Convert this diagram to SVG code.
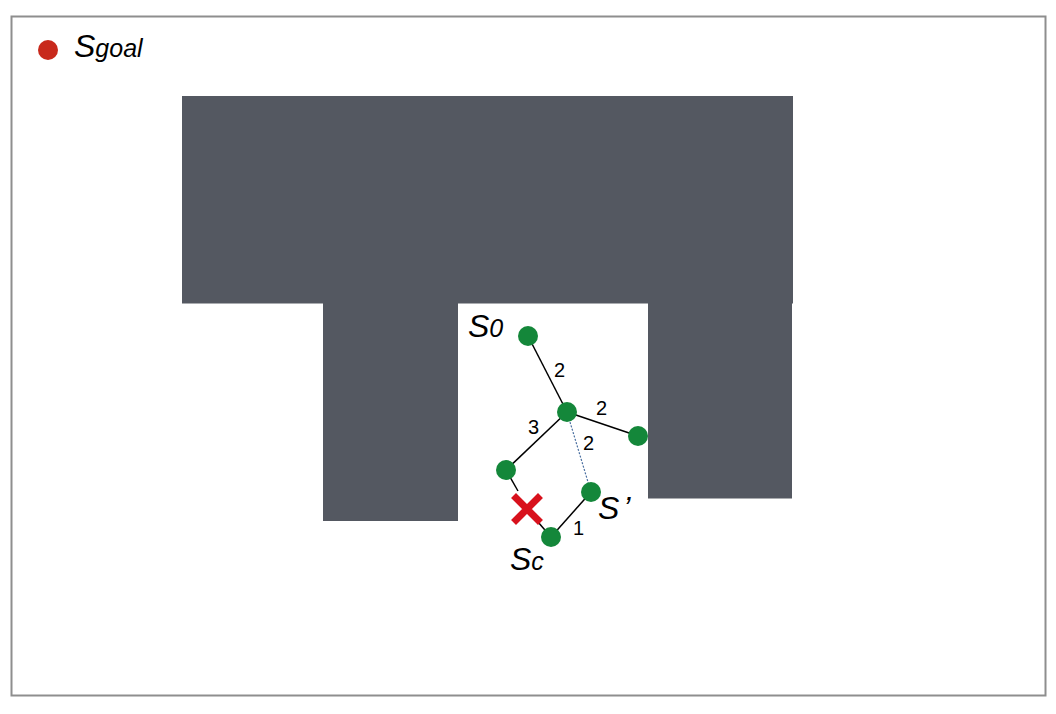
<svg xmlns="http://www.w3.org/2000/svg" width="1056" height="714" viewBox="0 0 1056 714">
<style>
.obs{fill:#545861}
.node{fill:#14873a}
.edge{stroke:#000;stroke-width:1.5;fill:none}
.lbl{font-family:"Liberation Sans",Arial,sans-serif;font-size:20px;fill:#000}
.big{font-family:"Liberation Sans",Arial,sans-serif;font-style:italic;font-size:32px;fill:#000}
.sub{font-size:25px}
</style>
<rect x="0" y="0" width="1056" height="714" fill="#fff"/>
<rect x="11.5" y="16.5" width="1034" height="679" fill="#fff" stroke="#8e8e8e" stroke-width="2"/>
<g id="obstacles">
<rect class="obs" x="182" y="96" width="611" height="207.5"/>
<rect class="obs" x="323" y="303" width="135" height="218"/>
<rect class="obs" x="648" y="303" width="144" height="195.5"/>
</g>
<g id="legend">
<circle cx="48" cy="50" r="10" fill="#c8291c"/>
<text class="big" x="74" y="57">S<tspan class="sub" font-size="26">goal</tspan></text>
</g>
<g id="connectors">
<line class="edge" x1="528" y1="336" x2="567" y2="412"/>
<line class="edge" x1="567" y1="412" x2="638" y2="436"/>
<line class="edge" x1="567" y1="412" x2="506" y2="470"/>
<line class="edge" x1="506" y1="470" x2="518" y2="491"/>
<line class="edge" x1="538" y1="522" x2="551" y2="537"/>
<line class="edge" x1="551" y1="537" x2="591" y2="492"/>
<line x1="567" y1="412" x2="591" y2="492" stroke="#4a6fa0" stroke-width="1.2" stroke-dasharray="2,1.5"/>
<text class="lbl" x="554" y="377">2</text>
<text class="lbl" x="596" y="415">2</text>
<text class="lbl" x="528" y="434">3</text>
<text class="lbl" x="583" y="450">2</text>
<text class="lbl" x="573" y="535">1</text>
</g>
<g id="s0">
<circle class="node" cx="528" cy="336" r="10"/>
<text class="big" x="468" y="337">S<tspan class="sub">0</tspan></text>
</g>
<g id="n1"><circle class="node" cx="567" cy="412" r="10"/></g>
<g id="n2"><circle class="node" cx="638" cy="436" r="10"/></g>
<g id="n3"><circle class="node" cx="506" cy="470" r="10"/></g>
<g id="sprime">
<circle class="node" cx="591" cy="492" r="10"/>
<text class="big" x="598" y="519">S<tspan dx="4">’</tspan></text>
</g>
<g id="sc">
<circle class="node" cx="551" cy="537" r="10"/>
<text class="big" x="510" y="570">S<tspan class="sub">c</tspan></text>
</g>
<g id="blocked">
<path d="M516 498 L538 520 M538 498 L516 520" stroke="#d8111c" stroke-width="7" stroke-linecap="square"/>
</g>
</svg>
